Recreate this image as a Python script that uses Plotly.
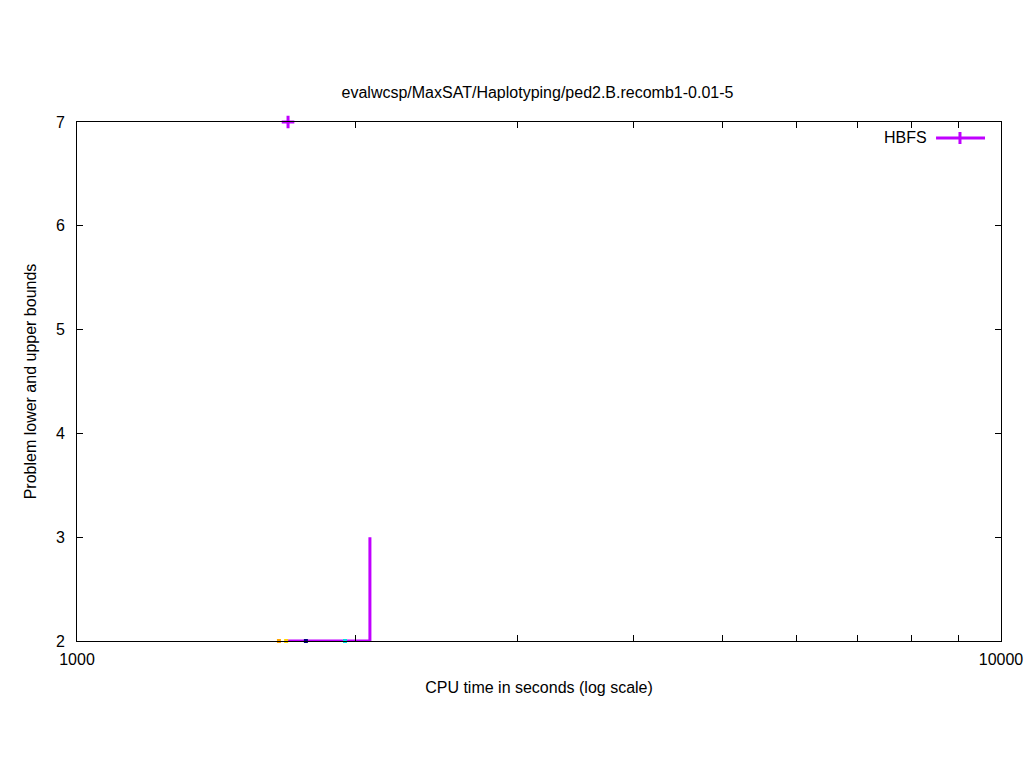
import plotly.graph_objects as go

# HBFS series (CPU time in seconds, bound value)
hbfs_lb_time = [1692, 2075, 2075]
hbfs_lb_value = [2, 2, 3]
hbfs_ub_time = [1692]
hbfs_ub_value = [7]

# Other tiny series visible only as dots on the lower axis
dot_times = [1654, 1684, 1769, 1950]
dot_values = [2, 2, 2, 2]
dot_colors = ["#FFA500", "#FFD700", "#000080", "#00E0E0"]

x_tickvals = [1000, 2000, 3000, 4000, 5000, 6000, 7000, 8000, 9000, 10000]
x_ticktext = ["1000", "", "", "", "", "", "", "", "", "10000"]
y_tickvals = [2, 3, 4, 5, 6, 7]

purple = "#C000FF"
font = "Liberation Sans, Arial, sans-serif"
fs = 16

fig = go.Figure()

fig.add_trace(go.Scatter(
    x=hbfs_lb_time, y=hbfs_lb_value, mode="lines",
    line=dict(color=purple, width=3),
    showlegend=False, cliponaxis=False))

fig.add_trace(go.Scatter(
    x=hbfs_ub_time, y=hbfs_ub_value, mode="markers",
    marker=dict(symbol="cross-thin", size=9, line=dict(color=purple, width=3)),
    showlegend=False, cliponaxis=False))

for t, v, c in zip(dot_times, dot_values, dot_colors):
    fig.add_trace(go.Scatter(
        x=[t], y=[v], mode="markers",
        marker=dict(symbol="square", size=4, color=c, line=dict(width=0)),
        showlegend=False, cliponaxis=False, hoverinfo="skip"))

# gnuplot-style legend key (text left of sample)
fig.add_annotation(x=0.9221, y=0.9692, xref="paper", yref="paper",
                   text="HBFS", showarrow=False, xanchor="right", yanchor="middle",
                   font=dict(family=font, size=fs, color="black"))
fig.add_shape(type="line", xref="paper", yref="paper",
              x0=0.9297, x1=0.9827, y0=0.9692, y1=0.9692,
              line=dict(color=purple, width=3))
fig.add_shape(type="line", xref="paper", yref="paper",
              x0=0.9556, x1=0.9556, y0=0.9807, y1=0.9576,
              line=dict(color=purple, width=3))

axis_common = dict(
    showgrid=False, zeroline=False, showline=True, linecolor="black", linewidth=1,
    mirror="allticks", ticks="inside", ticklen=6, tickcolor="black", tickwidth=1,
    tickfont=dict(family=font, size=fs, color="black"),
)

fig.update_layout(
    width=1024, height=768,
    paper_bgcolor="white", plot_bgcolor="white",
    margin=dict(l=77, r=23, t=122, b=127, autoexpand=False),
    title=dict(text="evalwcsp/MaxSAT/Haplotyping/ped2.B.recomb1-0.01-5",
               x=0.5249, xanchor="center", y=1 - 92 / 768, yanchor="middle",
               font=dict(family=font, size=fs, color="black")),
    xaxis=dict(type="log", range=[3, 4], tickvals=x_tickvals, ticktext=x_ticktext,
               ticklabelstandoff=4,
               title=dict(text="CPU time in seconds (log scale)", standoff=14,
                          font=dict(family=font, size=fs, color="black")),
               **axis_common),
    yaxis=dict(range=[2, 7], tickvals=y_tickvals, ticklabelstandoff=8,
               title=dict(text="Problem lower and upper bounds", standoff=15,
                          font=dict(family=font, size=fs, color="black")),
               **axis_common),
    showlegend=False,
)

page_css = ("document.documentElement.style.overflow='hidden';"
            "document.body.style.margin='0';"
            "document.body.style.overflow='hidden';")

fig.write_html("out.html", post_script=page_css, config={"displayModeBar": False})
